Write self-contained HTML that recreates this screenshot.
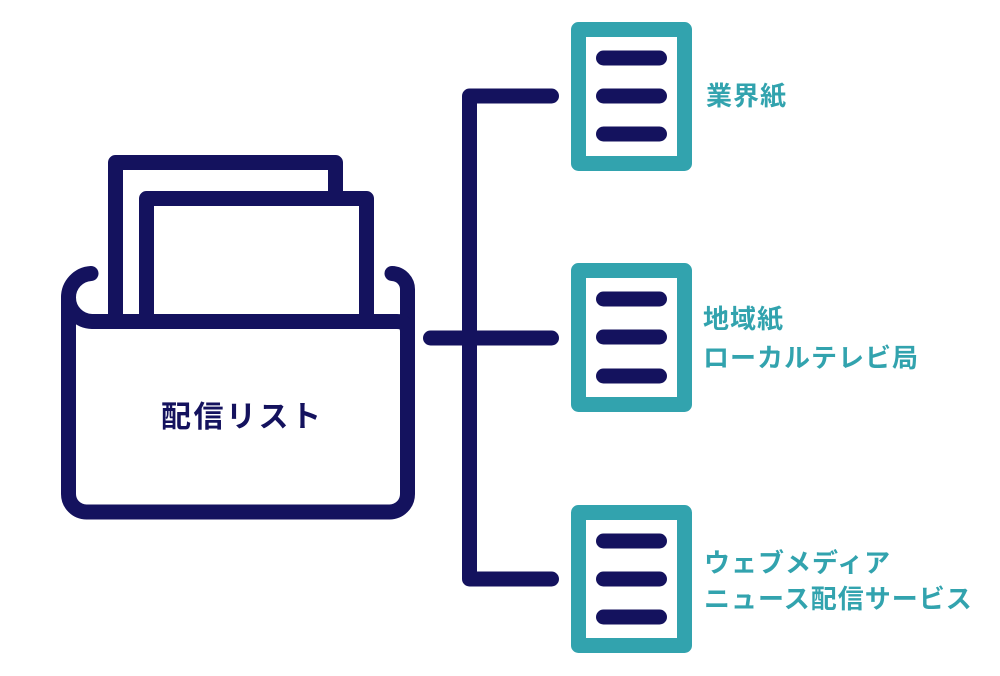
<!DOCTYPE html>
<html>
<head>
<meta charset="utf-8">
<style>
html,body{margin:0;padding:0;background:#fff;}
body{width:1000px;height:676px;overflow:hidden;}
svg{display:block;}
text{font-family:"Liberation Sans","Noto Sans CJK JP",sans-serif;font-weight:bold;}
</style>
</head>
<body>
<svg width="1000" height="676" viewBox="0 0 1000 676" xmlns="http://www.w3.org/2000/svg">
  <g fill="#fff" stroke="#14125e" stroke-width="15" stroke-linejoin="round" stroke-linecap="butt">
    <!-- back paper -->
    <path d="M115.5 321 L115.5 162.5 L335.5 162.5 L335.5 321" />
    <!-- front paper -->
    <path d="M146.5 321 L146.5 198.5 L366.5 198.5 L366.5 321" />
  </g>
  <g fill="none" stroke="#14125e" stroke-width="15" stroke-linecap="round" stroke-linejoin="round">
    <!-- body -->
    <path d="M392 273.5 A16 16 0 0 1 407.5 290 L407.5 494 A18 18 0 0 1 389.5 512 L86.5 512 A18 18 0 0 1 68.5 494 L68.5 297.5" fill="none"/>
    <!-- top line with left curl -->
    <path d="M91 273.5 A24 24 0 0 0 68.5 297.5 A24 24 0 0 0 92 321.5 L397 321.5 Q407.5 321.5 407.5 332"/>
    <!-- connectors -->
    <path d="M551.5 96 L469.5 96 L469.5 579 L551.5 579"/>
    <path d="M430.5 338 L551.5 338"/>
  </g>
  <!-- documents -->
  <g fill="none" stroke="#32a3ae" stroke-width="15" stroke-linejoin="round">
    <rect x="578.5" y="29.5" width="106" height="134"/>
    <rect x="578.5" y="270.5" width="106" height="134"/>
    <rect x="578.5" y="512.5" width="106" height="133"/>
  </g>
  <g stroke="#14125e" stroke-width="15" stroke-linecap="round">
    <line x1="603.5" y1="58" x2="659.5" y2="58"/>
    <line x1="603.5" y1="96" x2="659.5" y2="96"/>
    <line x1="603.5" y1="134" x2="659.5" y2="134"/>
    <line x1="603.5" y1="299" x2="659.5" y2="299"/>
    <line x1="603.5" y1="337" x2="659.5" y2="337"/>
    <line x1="603.5" y1="376" x2="659.5" y2="376"/>
    <line x1="603.5" y1="541" x2="659.5" y2="541"/>
    <line x1="603.5" y1="579" x2="659.5" y2="579"/>
    <line x1="603.5" y1="617" x2="659.5" y2="617"/>
  </g>
  <!-- labels -->
  <text x="161" y="427" font-size="30" fill="#14125e" style="letter-spacing:2.5px">配信リスト</text>
  <g fill="#32a3ae" font-size="26" style="letter-spacing:1px">
    <text x="706" y="105">業界紙</text>
    <text x="703" y="328">地域紙</text>
    <text x="703" y="367">ローカルテレビ局</text>
    <text x="704" y="572">ウェブメディア</text>
    <text x="704" y="608">ニュース配信サービス</text>
  </g>
</svg>
</body>
</html>
